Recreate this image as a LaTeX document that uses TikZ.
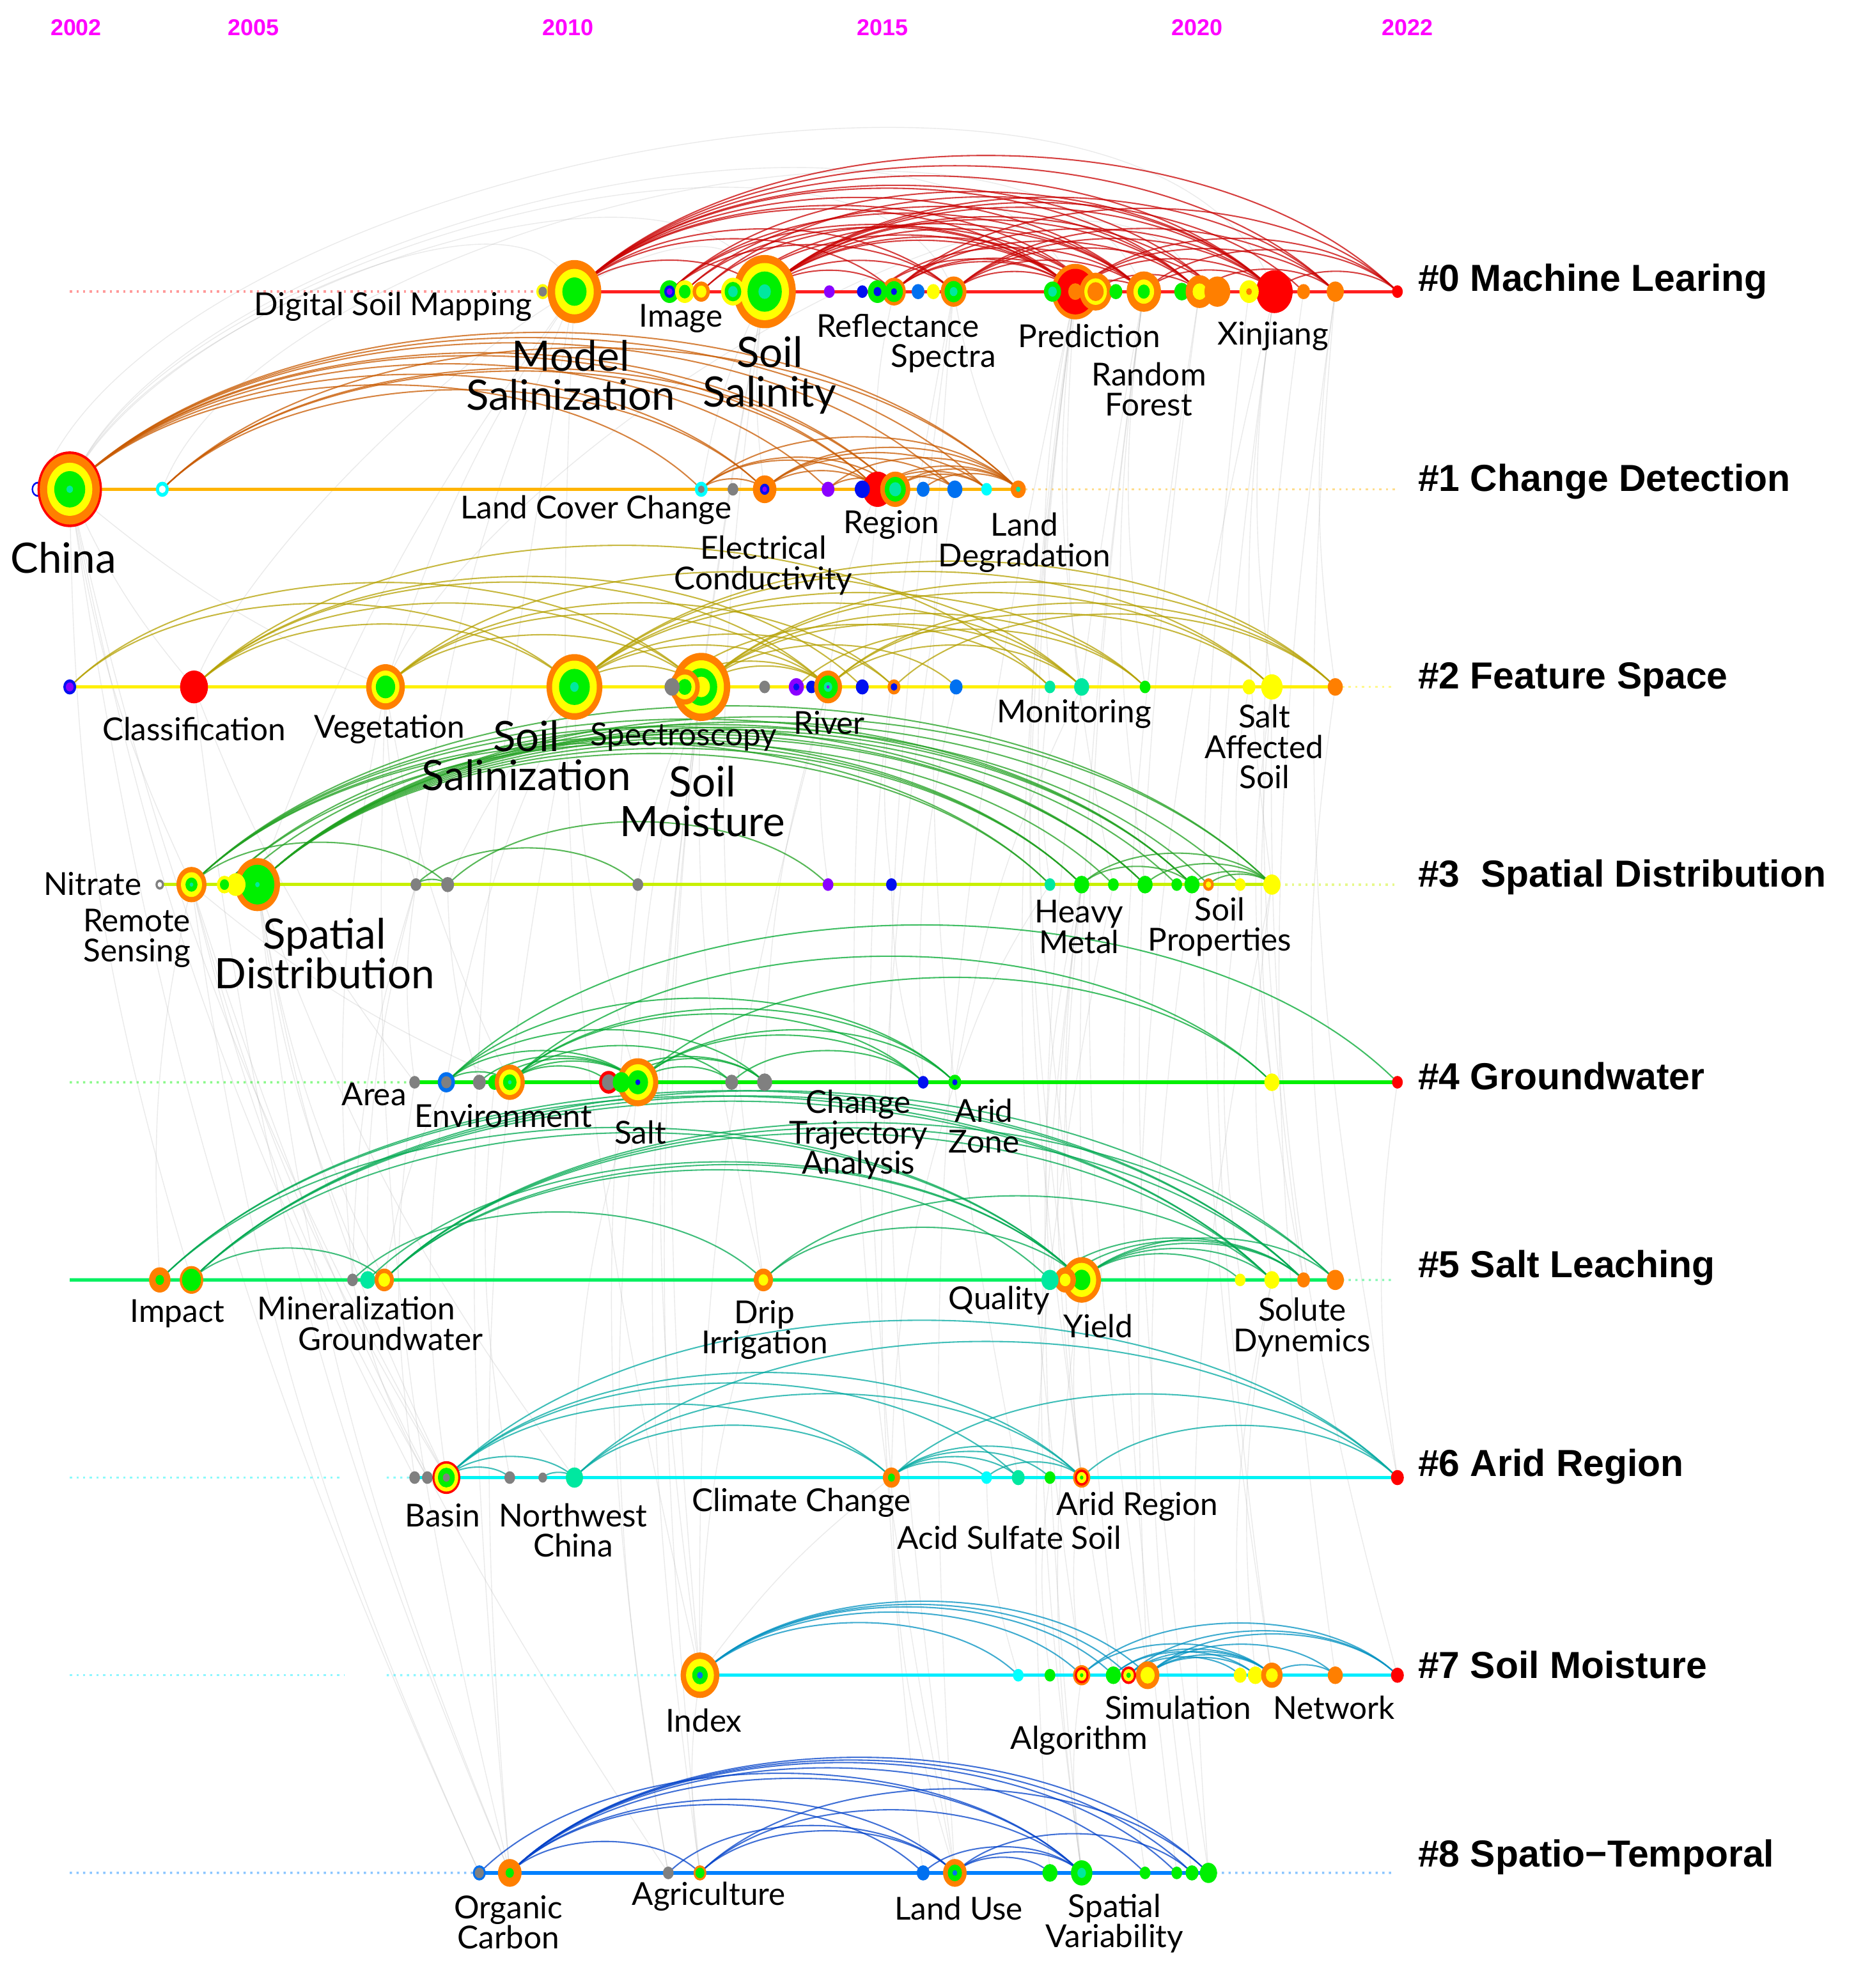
\documentclass[tikz,border=0pt]{standalone}
\usepackage{fontspec}
\setmainfont{Lato}
\newfontfamily\clfont{Liberation Sans}
\usepackage{tikz}
\usetikzlibrary{backgrounds}
\pgfdeclarelayer{links}
\pgfsetlayers{background,links,main}
\usepackage{xcolor}
% ring colours
\definecolor{cO}{HTML}{FF7F00}
\definecolor{cY}{HTML}{FFFF00}
\definecolor{cG}{HTML}{00F000}
\definecolor{cT}{HTML}{00E8A0}
\definecolor{cC}{HTML}{00FFFF}
\definecolor{cR}{HTML}{FF0000}
\definecolor{cB}{HTML}{0010F0}
\definecolor{cA}{HTML}{0070F0}
\definecolor{cP}{HTML}{8A00FF}
\definecolor{cK}{HTML}{808080}
\definecolor{cW}{HTML}{FFFFFF}
% timeline and link colours
\definecolor{line0}{HTML}{FF2020}\definecolor{arc0}{HTML}{C80000}
\definecolor{line1}{HTML}{FFB400}\definecolor{arc1}{HTML}{C85A00}
\definecolor{line2}{HTML}{FFF000}\definecolor{arc2}{HTML}{B4A000}
\definecolor{line3}{HTML}{C8F000}\definecolor{arc3}{HTML}{20A020}
\definecolor{line4}{HTML}{00F000}\definecolor{arc4}{HTML}{00A830}
\definecolor{line5}{HTML}{00F060}\definecolor{arc5}{HTML}{00A850}
\definecolor{line6}{HTML}{00F4F4}\definecolor{arc6}{HTML}{00A8A0}
\definecolor{line7}{HTML}{00ECFF}\definecolor{arc7}{HTML}{0090C0}
\definecolor{line8}{HTML}{0080FF}\definecolor{arc8}{HTML}{0040C8}
\definecolor{yearcol}{HTML}{FF00FF}
\tikzstyle{lab}=[font=\fontsize{14.2}{13.6}\selectfont, align=center, inner sep=0pt]
\tikzstyle{biglab}=[font=\fontsize{18.8}{17.6}\selectfont, align=center, inner sep=0pt]
\tikzstyle{cl}=[font=\clfont\bfseries\fontsize{16.9}{18}\selectfont, anchor=west, inner sep=0pt]
\tikzstyle{yr}=[font=\clfont\bfseries\fontsize{10.3}{11}\selectfont, text=yearcol, inner sep=0pt]
\tikzstyle{tl}=[line width=1.5pt]
\tikzstyle{dl}=[dotted, line width=1pt, opacity=.45]
\tikzstyle{lk}=[out=45, in=135, looseness=.8]
\tikzstyle{gl}=[draw=gray!60, line width=.4pt, opacity=.28]
% keyword node: name, row, x, radius, rings (colour/fraction)
\newcommand{\kw}[5]{
	\foreach \rc/\rf in {#5}
		\fill[\rc] (#3,{-230-155.9*#2}) ellipse [x radius={0.85*#4*\rf*0.567pt}, y radius={#4*\rf*0.567pt}];
	\coordinate (#1) at (#3,{-230-155.9*#2});
}

\begin{document}
\begin{tikzpicture}[x=0.02cm, y=0.02cm]
	\useasboundingbox (0,0) rectangle (1469,-1568);
	% years
	\node[yr] (y02) at (60,-22) {2002};
	\node[yr] (y05) at (200,-22) {2005};
	\node[yr] (y10) at (448,-22) {2010};
	\node[yr] (y15) at (696,-22) {2015};
	\node[yr] (y20) at (944,-22) {2020};
	\node[yr] (y22) at (1110,-22) {2022};
	% #0
	\kw{dsm}{0}{428}{6}{cY/1,cK/.65}
	\kw{msal}{0}{453}{25}{cO/1,cY/.72,cG/.45}
	\kw{ia}{0}{528}{9}{cG/1,cB/.55,cP/.3}
	\kw{ib}{0}{540}{9}{cY/1,cG/.6}
	\kw{ic}{0}{553}{8}{cO/1,cY/.6}
	\kw{ssal}{0}{603}{29}{cO/1,cY/.78,cG/.55,cT/.2}
	\kw{sa}{0}{578}{11}{cY/1,cG/.7,cT/.4}
	\kw{pa}{0}{654}{5}{cP/1}
	\kw{pb}{0}{680}{5}{cB/1}
	\kw{rfl}{0}{705}{11}{cO/1,cG/.75,cB/.25}
	\kw{rfa}{0}{692}{9}{cG/1,cB/.4}
	\kw{sb}{0}{724}{6}{cA/1}
	\kw{sc}{0}{736}{6}{cY/1}
	\kw{spe}{0}{752}{12}{cO/1,cG/.7,cT/.3}
	\kw{pred}{0}{848}{22}{cO/1,cR/.82,cO/.3}
	\kw{pra}{0}{830}{8}{cG/1,cT/.5}
	\kw{prb}{0}{864}{15}{cO/1,cY/.7,cO/.5}
	\kw{rfc}{0}{880}{6}{cG/1}
	\kw{rnd}{0}{902}{16}{cO/1,cY/.6,cG/.35}
	\kw{xa}{0}{932}{7}{cG/1}
	\kw{xb}{0}{946}{13}{cO/1,cY/.5}
	\kw{xc}{0}{960}{12}{cO/1}
	\kw{xj}{0}{1005}{17}{cR/1}
	\kw{xd}{0}{985}{9}{cY/1,cO/.3}
	\kw{xe}{0}{1028}{6}{cO/1}
	\kw{xf}{0}{1053}{8}{cO/1}
	\kw{ez}{0}{1102}{5}{cR/1}
	% #1
	\kw{wa}{1}{30}{6}{cB/1,cW/.75}
	\kw{china}{1}{55}{30}{cR/1,cO/.93,cY/.7,cG/.48,cT/.1}
	\kw{cb}{1}{128}{6}{cC/1,cW/.5}
	\kw{lcc}{1}{553}{6}{cC/1,cK/.5}
	\kw{cd}{1}{578}{5}{cK/1}
	\kw{ec}{1}{603}{11}{cO/1,cB/.4,cP/.2}
	\kw{cf}{1}{653}{6}{cP/1}
	\kw{reg}{1}{692}{14}{cR/1}
	\kw{ch}{1}{706}{14}{cO/1,cG/.7,cT/.4}
	\kw{cg}{1}{680}{7}{cB/1}
	\kw{ci}{1}{728}{6}{cA/1}
	\kw{cj}{1}{753}{7}{cA/1}
	\kw{ck}{1}{778}{5}{cC/1}
	\kw{ld}{1}{803}{7}{cO/1,cT/.3}
	% #2
	\kw{fa}{2}{55}{6}{cB/1,cP/.6}
	\kw{cls}{2}{153}{13}{cR/1}
	\kw{veg}{2}{304}{18}{cO/1,cY/.72,cG/.5}
	\kw{ssz}{2}{453}{26}{cO/1,cY/.8,cG/.55,cT/.15}
	\kw{spc}{2}{553}{27}{cO/1,cY/.78,cG/.55,cY/.3}
	\kw{fe}{2}{540}{14}{cO/1,cY/.7,cG/.45}
	\kw{fd}{2}{530}{7}{cK/1}
	\kw{fg}{2}{603}{5}{cK/1}
	\kw{fh}{2}{628}{7}{cP/1,cB/.4}
	\kw{fi}{2}{640}{5}{cB/1}
	\kw{riv}{2}{653}{13}{cO/1,cG/.7,cT/.3,cP/.1}
	\kw{fk}{2}{680}{6}{cB/1}
	\kw{fl}{2}{705}{6}{cO/1,cB/.5}
	\kw{fm}{2}{754}{6}{cA/1}
	\kw{fn}{2}{828}{5}{cT/1}
	\kw{mon}{2}{853}{7}{cT/1}
	\kw{fp}{2}{903}{5}{cG/1}
	\kw{fq}{2}{985}{6}{cY/1}
	\kw{sas}{2}{1003}{10}{cY/1}
	\kw{fs}{2}{1053}{7}{cO/1}
	% #3
	\kw{nit}{3}{126}{4}{cK/1,cW/.5}
	\kw{rs}{3}{151}{14}{cO/1,cY/.7,cG/.4,cT/.12}
	\kw{sd}{3}{203}{21}{cO/1,cG/.75,cT/.1}
	\kw{db}{3}{186}{9}{cY/1}
	\kw{da}{3}{177}{7}{cY/1,cG/.6}
	\kw{dc}{3}{328}{5}{cK/1}
	\kw{dd}{3}{353}{6}{cK/1}
	\kw{de}{3}{503}{5}{cK/1}
	\kw{df}{3}{653}{5}{cP/1}
	\kw{dg}{3}{703}{5}{cB/1}
	\kw{dh}{3}{828}{5}{cT/1}
	\kw{hm}{3}{853}{7}{cG/1}
	\kw{di}{3}{878}{5}{cG/1}
	\kw{dj}{3}{903}{7}{cG/1}
	\kw{dk}{3}{928}{5}{cG/1}
	\kw{dl}{3}{940}{7}{cG/1}
	\kw{sp}{3}{953}{5}{cO/1,cY/.5}
	\kw{dm}{3}{978}{5}{cY/1}
	\kw{dn}{3}{1003}{8}{cY/1}
	% #4
	\kw{ga}{4}{327}{5}{cK/1}
	\kw{area}{4}{352}{8}{cA/1,cK/.6}
	\kw{gc}{4}{378}{6}{cK/1}
	\kw{gd}{4}{390}{6}{cG/1}
	\kw{env}{4}{402}{14}{cO/1,cY/.72,cG/.45,cT/.12}
	\kw{salt}{4}{503}{19}{cO/1,cY/.75,cG/.5,cB/.12}
	\kw{gf}{4}{480}{9}{cR/1,cK/.7}
	\kw{gg}{4}{490}{8}{cG/1}
	\kw{gi}{4}{577}{6}{cK/1}
	\kw{gj}{4}{603}{7}{cK/1}
	\kw{gk}{4}{728}{5}{cB/1}
	\kw{az}{4}{753}{6}{cG/1,cB/.4}
	\kw{gm}{4}{1003}{7}{cY/1}
	\kw{ez4}{4}{1102}{5}{cR/1}
	% #5
	\kw{ha}{5}{126}{10}{cO/1,cG/.4}
	\kw{imp}{5}{151}{11}{cO/1,cG/.8}
	\kw{hc}{5}{278}{5}{cK/1}
	\kw{mnr}{5}{290}{7}{cT/1}
	\kw{gw}{5}{303}{9}{cO/1,cY/.6}
	\kw{drip}{5}{602}{9}{cO/1,cY/.5}
	\kw{yld}{5}{853}{18}{cO/1,cY/.75,cG/.45}
	\kw{qb}{5}{840}{10}{cO/1,cY/.5}
	\kw{qa}{5}{828}{8}{cT/1}
	\kw{hj}{5}{978}{5}{cY/1}
	\kw{hk}{5}{1003}{7}{cY/1}
	\kw{sol}{5}{1028}{6}{cO/1}
	\kw{hm5}{5}{1053}{8}{cO/1}
	% #6
	\kw{aa}{6}{327}{5}{cK/1}
	\kw{ab}{6}{337}{5}{cK/1}
	\kw{bas}{6}{352}{13}{cR/1,cY/.85,cG/.6,cK/.25}
	\kw{ad}{6}{402}{5}{cK/1}
	\kw{ae}{6}{428}{4}{cK/1}
	\kw{nwc}{6}{453}{8}{cT/1}
	\kw{cc}{6}{703}{8}{cO/1,cG/.4}
	\kw{ah}{6}{778}{5}{cC/1}
	\kw{ai}{6}{803}{6}{cT/1}
	\kw{aj}{6}{828}{5}{cG/1}
	\kw{ar}{6}{853}{8}{cO/1,cR/.8,cY/.55,cG/.2}
	\kw{ez6}{6}{1102}{6}{cR/1}
	% #7
	\kw{idx}{7}{552}{18}{cO/1,cY/.72,cG/.4,cA/.15}
	\kw{mb}{7}{803}{5}{cC/1}
	\kw{mc}{7}{828}{5}{cG/1}
	\kw{alg}{7}{853}{8}{cO/1,cR/.8,cY/.55,cG/.2}
	\kw{sim}{7}{905}{11}{cO/1,cY/.6}
	\kw{me}{7}{878}{7}{cG/1}
	\kw{mf}{7}{890}{7}{cR/1,cY/.7,cG/.3}
	\kw{mh}{7}{978}{6}{cY/1}
	\kw{mi}{7}{990}{7}{cY/1}
	\kw{net}{7}{1003}{10}{cO/1,cY/.55}
	\kw{mk}{7}{1053}{7}{cO/1}
	\kw{ez7}{7}{1102}{6}{cR/1}
	% #8
	\kw{oa}{8}{378}{6}{cA/1,cK/.7}
	\kw{oc}{8}{402}{11}{cO/1,cG/.35}
	\kw{ob}{8}{527}{5}{cK/1}
	\kw{agr}{8}{552}{6}{cO/1,cG/.7}
	\kw{od}{8}{728}{6}{cA/1}
	\kw{lu}{8}{753}{11}{cO/1,cG/.6,cA/.2}
	\kw{oe}{8}{828}{7}{cG/1}
	\kw{sv}{8}{853}{10}{cG/1,cT/.4}
	\kw{of}{8}{903}{5}{cG/1}
	\kw{og}{8}{928}{5}{cG/1}
	\kw{oh}{8}{940}{6}{cG/1}
	\kw{oi}{8}{953}{8}{cG/1}

	\begin{pgfonlayer}{links}
		% timelines
		\coordinate (s0) at (55,-230);
		\draw[dl, line0] (s0) -- (dsm);
		\draw[tl, line0] (dsm) -- (ez);
		\coordinate (t1) at (1100,-385.9);
		\draw[tl, line1] (wa) -- (ld);
		\draw[dl, line1] (ld) -- (t1);
		\coordinate (t2) at (1100,-541.8);
		\draw[tl, line2] (fa) -- (fs);
		\draw[dl, line2] (fs) -- (t2);
		\coordinate (t3) at (1100,-697.7);
		\draw[tl, line3] (nit) -- (dn);
		\draw[dl, line3] (dn) -- (t3);
		\coordinate (s4) at (55,-853.6);
		\draw[dl, line4] (s4) -- (ga);
		\draw[tl, line4] (ga) -- (ez4);
		\coordinate (s5) at (55,-1009.5);
		\coordinate (t5) at (1100,-1009.5);
		\draw[tl, line5] (s5) -- (hm5);
		\draw[dl, line5] (hm5) -- (t5);
		\coordinate (s6) at (55,-1165.4);
		\coordinate (s6b) at (268,-1165.4);
		\coordinate (s6c) at (305,-1165.4);
		\draw[dl, line6] (s6) -- (s6b);
		\draw[dl, line6] (s6c) -- (aa);
		\draw[tl, line6] (aa) -- (ez6);
		\coordinate (s7) at (55,-1321.3);
		\coordinate (s7b) at (272,-1321.3);
		\coordinate (s7c) at (305,-1321.3);
		\draw[dl, line7] (s7) -- (s7b);
		\draw[dl, line7] (s7c) -- (idx);
		\draw[tl, line7] (idx) -- (ez7);
		\coordinate (s8) at (55,-1477.2);
		\coordinate (t8) at (1100,-1477.2);
		\draw[dl, line8] (s8) -- (oa);
		\draw[tl, line8] (oa) -- (oi);
		\draw[dl, line8] (oi) -- (t8);
		% links inside clusters
		\foreach \a/\b in {msal/ssal, msal/rfl, msal/spe, msal/pred, msal/prb, msal/rnd, msal/xb, msal/xj, msal/xf, msal/ez, msal/xc,
			ia/spe, ia/pred, ia/rnd, ia/xj, ib/pred, ib/xb, ic/prb, ic/xj, sa/pred, sa/rnd,
			ssal/rfl, ssal/spe, ssal/pred, ssal/prb, ssal/rnd, ssal/xb, ssal/xc, ssal/xj, ssal/xe, ssal/xf,
			rfa/pred, rfa/rnd, rfl/pred, rfl/prb, rfl/xb, rfl/xj, rfl/ez, spe/pred, spe/rnd, spe/xc, spe/xj, spe/xf,
			pred/rnd, pred/xj, pred/xf, pred/ez, prb/xb, rnd/xj, rnd/ez, xb/xf, xj/ez}
			\draw[arc0, line width=.6pt, opacity=.75] (\a) to[lk] (\b);
		\foreach \a/\b in {china/lcc, china/ec, china/reg, china/ch, china/cj, china/ld, china/ck, china/cf, cb/ec, cb/ch, cb/ld, cb/reg,
			lcc/ec, lcc/reg, lcc/ld, lcc/ch, ec/reg, ec/cj, ec/ld, ec/ck, cf/ch, cf/ld, reg/cj, reg/ld, reg/ck, ch/ld, ch/ck, ci/ld}
			\draw[arc1, line width=.6pt, opacity=.75] (\a) to[lk] (\b);
		\foreach \a/\b in {fa/ssz, fa/spc, cls/ssz, cls/spc, cls/riv, cls/fn, cls/fk, veg/spc, veg/riv, veg/mon, veg/fl, ssz/spc, ssz/riv,
			ssz/fl, ssz/mon, ssz/fp, ssz/sas, ssz/fs, spc/riv, spc/fm, spc/mon, spc/fp, spc/sas, spc/fs, fd/riv, fd/fn, riv/mon, riv/sas,
			riv/fs, fh/fp, fl/fs}
			\draw[arc2, line width=.6pt, opacity=.75] (\a) to[lk] (\b);
		\foreach \a/\b in {rs/hm, rs/dj, rs/dl, rs/dn, rs/dh, da/hm, da/dl, db/dj, sd/dh, sd/hm, sd/di, sd/dj, sd/dk, sd/dl, sd/sp, sd/dn,
			sd/dm, dc/dd, dc/de, dd/df, rs/dd, hm/dl, hm/dn, dj/dn, dl/dn, sp/dn}
			\draw[arc3, line width=.6pt, opacity=.75] (\a) to[lk] (\b);
		\foreach \a/\b in {area/env, area/salt, area/gj, area/az, area/ez4, gc/salt, gd/salt, env/gf, env/salt, env/gi, env/gk, env/az,
			env/gm, gf/gj, gg/gj, salt/gk, salt/az, salt/gm, salt/gi, gi/gk}
			\draw[arc4, line width=.6pt, opacity=.75] (\a) to[lk] (\b);
		\foreach \a/\b in {ha/yld, ha/hk, ha/sol, imp/yld, imp/sol, imp/hm5, imp/hk, imp/gw, hc/drip, mnr/yld, gw/yld, gw/qa, gw/sol,
			gw/hk, gw/hm5, drip/yld, drip/hk, qa/sol, yld/hk, yld/sol, yld/hm5, yld/hj, qb/sol}
			\draw[arc5, line width=.6pt, opacity=.75] (\a) to[lk] (\b);
		\foreach \a/\b in {bas/ad, bas/nwc, bas/cc, bas/ar, bas/ez6, bas/ai, ae/nwc, nwc/ar, nwc/ez6, nwc/cc, cc/ah, cc/ai, cc/aj,
			cc/ar, cc/ez6, ar/ez6, ah/ar}
			\draw[arc6, line width=.6pt, opacity=.75] (\a) to[lk] (\b);
		\foreach \a/\b in {idx/alg, idx/sim, idx/me, idx/mf, idx/mb, alg/net, alg/ez7, me/net, me/mi, mf/net, mf/mh, sim/net, sim/mk,
			sim/ez7, sim/mi, net/mk, mf/ez7}
			\draw[arc7, line width=.6pt, opacity=.75] (\a) to[lk] (\b);
		\foreach \a/\b in {oc/agr, oc/od, oc/lu, oc/sv, oc/of, oc/og, oc/oh, oc/oi, oa/sv, ob/lu, agr/lu, agr/sv, agr/oi, lu/oe, lu/sv,
			lu/oh, od/sv}
			\draw[arc8, line width=.6pt, opacity=.75] (\a) to[lk] (\b);
	\end{pgfonlayer}

	\begin{pgfonlayer}{background}
		% links between clusters
		\foreach \a/\b in {oc/msal, oc/ssz, oc/sd, oa/rs, ob/salt, agr/spc, lu/pred, lu/reg, sv/rnd, sv/hm, oi/xb, idx/ssal, idx/spc,
			idx/riv, alg/pred, sim/xj, net/xj, bas/rs, bas/sd, aa/china, ab/rs, nwc/sd, cc/spe, ar/pred, ar/hm, imp/china, ha/rs,
			gw/sd, mnr/dc, drip/ssal, yld/pred, yld/hm, sol/xe, area/ssz, env/veg, salt/spc, az/dh, gm/sas, dc/msal, rs/china,
			sd/msal, cls/china, veg/msal, mon/pred, dn/xj, ez7/sas, ez6/xf, ga/cls, hc/veg, ob/de, od/cj, oe/di, mh/hk, gk/fm,
			oa/china, oc/cls, oc/veg, ob/rs, agr/ssal, agr/idx, od/lu, lu/spe, lu/cc, sv/yld, sv/alg, of/rnd, og/xb, oh/dl, oi/dn,
			idx/msal, idx/cc, idx/drip, mb/ah, mc/aj, alg/ar, me/hm, sim/rnd, mi/hk, net/xd, mk/xf, bas/china, bas/area, aa/ga,
			ab/hc, ad/gd, nwc/salt, cc/az, ai/spe, ar/yld, ez6/ez4, hc/dc, mnr/sd, gw/area, drip/spc, qa/hm, qb/pred, hj/dm, hk/dn,
			sol/sas, hm5/fs, ga/dc, gc/dd, env/rs, salt/ssz, gj/riv, gk/dg, az/mon, dc/veg, dd/ssz, de/spc, df/riv, dg/fl, dh/fn,
			di/pred, dj/rnd, dm/fq, veg/china, riv/reg, fn/pred, fp/rnd, sas/xj, fs/xf, ec/ssal, reg/rfl, ld/spe, lcc/ssal}
			\draw[gl] (\a) to[bend left=8] (\b);
		\foreach \a/\b in {china/msal, china/ssal, china/pred, cb/rnd, wa/xj, china/spe, cls/ssal, veg/xb}
			\draw[gl] (\a) to[out=70, in=110, looseness=.7] (\b);
	\end{pgfonlayer}

	% labels #0
	\node[lab, anchor=east] (t-dsm) at (420,-242) {Digital Soil Mapping};
	\node[biglab] (t-msal) at (450,-296) {Model\\Salinization};
	\node[lab] (t-img) at (537,-251) {Image};
	\node[biglab] (t-ssal) at (607,-296) {Soil\\Salinity};
	\node[lab] (t-rfl) at (708,-257) {Reflectance};
	\node[lab] (t-spe) at (744,-283) {Spectra};
	\node[lab] (t-pred) at (859,-265) {Prediction};
	\node[lab] (t-rnd) at (906,-307) {Random\\Forest};
	\node[lab] (t-xj) at (1004,-265) {Xinjiang};
	% labels #1
	\node[biglab] (t-china) at (50,-440) {China};
	\node[lab] (t-lcc) at (470,-402) {Land Cover Change};
	\node[lab] (t-ec) at (602,-446) {Electrical\\Conductivity};
	\node[lab] (t-reg) at (703,-414) {Region};
	\node[lab] (t-ld) at (808,-428) {Land\\Degradation};
	% labels #2
	\node[lab] (t-cls) at (153,-575) {Classification};
	\node[lab] (t-veg) at (307,-575) {Vegetation};
	\node[biglab] (t-ssz) at (415,-596) {Soil\\Salinization};
	\node[lab] (t-spc) at (539,-581) {Spectroscopy};
	\node[biglab] (t-sm) at (554,-632) {Soil\\Moisture};
	\node[lab] (t-riv) at (654,-570) {River};
	\node[lab] (t-mon) at (847,-563) {Monitoring};
	\node[lab] (t-sas) at (997,-589) {Salt\\Affected\\Soil};
	% labels #3
	\node[lab] (t-nit) at (73,-697) {Nitrate};
	\node[lab] (t-rs) at (108,-740) {Remote\\Sensing};
	\node[biglab] (t-sd) at (256,-752) {Spatial\\Distribution};
	\node[lab] (t-hm) at (851,-731) {Heavy\\Metal};
	\node[lab] (t-sp) at (962,-731) {Soil\\Properties};
	% labels #4
	\node[lab] (t-area) at (295,-863) {Area};
	\node[lab] (t-env) at (397,-880) {Environment};
	\node[lab] (t-salt) at (505,-893) {Salt};
	\node[lab] (t-cta) at (677,-895) {Change\\Trajectory\\Analysis};
	\node[lab] (t-az) at (776,-888) {Arid\\Zone};
	% labels #5
	\node[lab] (t-imp) at (140,-1036) {Impact};
	\node[lab] (t-mnr) at (281,-1032) {Mineralization};
	\node[lab] (t-gw) at (308,-1056) {Groundwater};
	\node[lab] (t-drip) at (603,-1049) {Drip\\Irrigation};
	\node[lab] (t-ql) at (788,-1026) {Quality};
	\node[lab] (t-yld) at (866,-1046) {Yield};
	\node[lab] (t-sol) at (1027,-1047) {Solute\\Dynemics};
	% labels #6
	\node[lab] (t-bas) at (349,-1195) {Basin};
	\node[lab] (t-nwc) at (452,-1207) {Northwest\\China};
	\node[lab] (t-cc) at (632,-1185) {Climate Change};
	\node[lab] (t-ass) at (796,-1213) {Acid Sulfate Soil};
	\node[lab] (t-ar) at (897,-1188) {Arid Region};
	% labels #7
	\node[lab] (t-idx) at (555,-1357) {Index};
	\node[lab] (t-sim) at (929,-1347) {Simulation};
	\node[lab] (t-net) at (1052,-1347) {Network};
	\node[lab] (t-alg) at (851,-1373) {Algorithm};
	% labels #8
	\node[lab] (t-oc) at (401,-1516) {Organic\\Carbon};
	\node[lab] (t-agr) at (559,-1496) {Agriculture};
	\node[lab] (t-lu) at (756,-1505) {Land Use};
	\node[lab] (t-sv) at (879,-1517) {Spatial\\Variability};
	% cluster labels
	\node[cl] (c0) at (1118,-222) {\#0 Machine Learing};
	\node[cl] (c1) at (1118,-380) {\#1 Change Detection};
	\node[cl] (c2) at (1118,-536) {\#2 Feature Space};
	\node[cl] (c3) at (1118,-692) {\#3\ \ Spatial Distribution};
	\node[cl] (c4) at (1118,-849) {\#4 Groundwater};
	\node[cl] (c5) at (1118,-1000) {\#5 Salt Leaching};
	\node[cl] (c6) at (1118,-1157) {\#6 Arid Region};
	\node[cl] (c7) at (1118,-1313) {\#7 Soil Moisture};
	\node[cl] (c8) at (1118,-1465) {\#8 Spatio−Temporal};
\end{tikzpicture}
\end{document}
